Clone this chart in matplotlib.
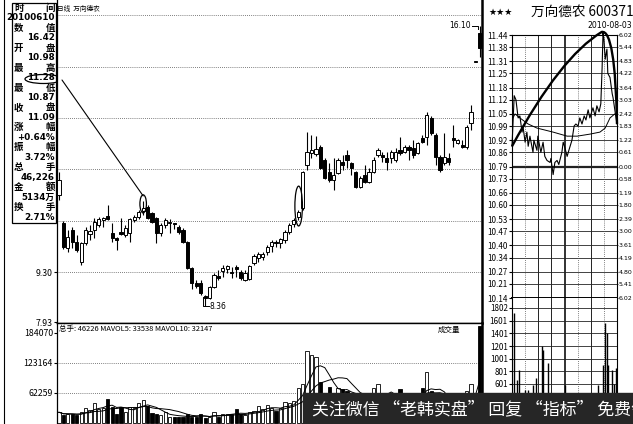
import matplotlib
matplotlib.use("Agg")
import matplotlib.pyplot as plt
import pandas as pd
from matplotlib.patches import Ellipse, Rectangle, ConnectionPatch, PathPatch
from matplotlib.path import Path

plt.rcParams['font.family'] = ['Noto Sans CJK SC', 'DejaVu Sans']

# daily candles, 万向德农
opens = [11.44, 10.66, 9.97, 10.47, 10.14, 9.59, 10.11, 10.36, 10.47, 10.61,
         10.75, 10.86, 10.39, 10.25, 10.41, 10.33, 10.39, 10.75, 10.83, 10.98,
         11.10, 10.94, 10.80, 10.39, 10.61, 10.67, 10.66, 10.55, 10.47, 10.14,
         9.42, 9.01, 9.01, 8.65, 8.59, 8.90, 9.20, 9.34, 9.39, 9.31,
         9.45, 9.31, 9.09, 9.12, 9.56, 9.70, 9.72, 9.86, 10.03, 10.14,
         10.11, 10.19, 10.41, 10.63, 10.83, 11.08, 12.26, 12.59, 12.57, 12.76,
         12.40, 12.07, 11.85, 12.04, 12.35, 12.54, 12.32, 12.07, 11.66, 11.99,
         11.79, 12.07, 12.54, 12.54, 12.46, 12.46, 12.40, 12.68, 12.62, 12.76,
         12.73, 12.59, 13.01, 13.04, 13.56, 13.09, 12.48, 12.32, 12.46, 13.01,
         12.87, 12.82, 12.76, 13.42, 15.11, 15.91]
closes = [11.85, 10.00, 10.28, 10.14, 9.92, 10.11, 10.47, 10.44, 10.69, 10.77,
          10.80, 10.77, 10.25, 10.19, 10.36, 10.52, 10.77, 10.83, 10.97, 11.09,
          10.80, 10.69, 10.39, 10.61, 10.75, 10.69, 10.63, 10.41, 10.14, 9.42,
          9.01, 8.92, 8.73, 8.59, 8.90, 9.23, 9.14, 9.42, 9.48, 9.28,
          9.39, 9.14, 9.28, 9.48, 9.75, 9.81, 9.81, 10.00, 10.14, 10.11,
          10.22, 10.41, 10.61, 10.75, 10.97, 12.07, 12.62, 12.68, 12.70, 12.18,
          11.90, 11.85, 11.99, 12.40, 12.26, 12.40, 12.18, 11.66, 11.90, 11.79,
          12.07, 12.40, 12.68, 12.48, 12.35, 12.62, 12.62, 12.59, 12.76, 12.68,
          12.54, 12.87, 12.90, 13.64, 13.15, 12.48, 12.13, 12.48, 12.35, 12.95,
          12.95, 12.76, 13.31, 13.73, 15.11, 15.49]
highs = [12.07, 10.72, 10.47, 10.55, 10.33, 10.14, 10.55, 10.61, 10.80, 10.83,
         10.83, 11.16, 10.66, 10.28, 10.80, 10.61, 10.80, 10.88, 11.02, 11.28,
         11.16, 10.97, 10.83, 10.66, 10.80, 10.77, 10.66, 10.61, 10.52, 10.17,
         9.45, 9.09, 9.09, 8.68, 8.92, 9.28, 9.37, 9.50, 9.50, 9.45,
         9.50, 9.37, 9.37, 9.50, 9.81, 9.86, 9.86, 10.06, 10.19, 10.19,
         10.25, 10.47, 10.66, 10.80, 11.02, 12.10, 13.17, 13.09, 13.06, 12.82,
         12.46, 12.32, 12.46, 12.46, 12.54, 12.68, 12.35, 12.10, 11.96, 12.26,
         12.18, 12.48, 12.73, 12.62, 12.62, 12.68, 12.73, 13.04, 12.82, 12.82,
         12.95, 12.90, 13.09, 13.73, 13.62, 13.15, 12.54, 13.15, 12.59, 13.37,
         12.98, 12.95, 13.37, 13.92, 15.11, 16.10]
lows = [11.30, 9.94, 9.86, 9.97, 9.86, 9.50, 10.06, 10.19, 10.25, 10.55,
        10.55, 10.75, 10.14, 9.92, 10.33, 10.28, 10.14, 10.69, 10.77, 10.87,
        10.77, 10.66, 10.11, 10.30, 10.52, 10.39, 10.50, 10.36, 10.11, 9.39,
        8.84, 8.87, 8.68, 8.36, 8.56, 8.87, 9.09, 9.17, 9.28, 9.14,
        9.17, 9.09, 9.06, 9.09, 9.50, 9.59, 9.64, 9.78, 9.86, 10.00,
        9.97, 10.11, 10.36, 10.55, 10.75, 11.02, 12.13, 12.46, 12.51, 12.15,
        11.88, 11.79, 11.57, 12.01, 12.13, 12.18, 11.99, 11.63, 11.63, 11.77,
        11.77, 12.04, 12.48, 12.35, 12.13, 12.32, 12.35, 12.54, 12.59, 12.40,
        12.46, 12.57, 12.87, 12.82, 13.09, 12.26, 12.07, 12.26, 12.26, 12.76,
        12.84, 12.73, 12.70, 13.23, 15.11, 15.24]
volumes = [22000, 16000, 18000, 18000, 16000, 22000, 31000, 27000, 41000, 28000,
           31000, 49000, 33000, 18000, 32000, 22000, 33000, 31000, 40000, 46226,
           35000, 20000, 18000, 16000, 22000, 13000, 12000, 12000, 12000, 18000,
           13000, 12000, 18000, 10000, 13000, 22000, 13000, 18000, 18000, 18000,
           28000, 18000, 16000, 22000, 25000, 35000, 28000, 37000, 31000, 25000,
           31000, 43000, 41000, 45000, 72000, 80000, 147000, 139000, 135000, 84000,
           61000, 74000, 61000, 72000, 69000, 66000, 50000, 45000, 40000, 42000,
           38000, 72000, 80000, 48000, 55000, 62000, 45000, 69000, 50000, 48000,
           62000, 45000, 72000, 104000, 66000, 55000, 48000, 45000, 42000, 50000,
           45000, 48000, 65000, 80000, 45000, 198000]

info_labels = [("时", "间"), ("数", "值"), ("开", "盘"), ("最", "高"), ("最", "低"), ("收", "盘"),
               ("涨", "幅"), ("振", "幅"), ("总", "手"), ("金", "额"), ("换", "手")]
info_values = ["20100610", "16.42", "10.98", "11.28", "10.87", "11.09",
               "+0.64%", "3.72%", "46,226", "5134万", "2.71%"]

price_grid = [9.30, 10.72, 12.14, 13.56, 14.97, 16.40]
price_ticks = [7.93, 9.30]
vol_ticks = [62259, 123164, 184070]

# intraday 2010-08-03
intra_left = ['11.44', '11.38', '11.31', '11.25', '11.18', '11.12', '11.05', '10.99', '10.92', '10.86',
              '10.79', '10.73', '10.66', '10.60', '10.53', '10.47', '10.40', '10.34', '10.27', '10.21', '10.14']
intra_right = ['6.02', '5.44', '4.83', '4.22', '3.64', '3.03', '2.42', '1.83', '1.22', '0.61',
               '0.00', '0.58', '1.19', '1.80', '2.39', '3.00', '3.61', '4.19', '4.80', '5.41', '6.02']
intra_min = [0, 5, 9, 14, 18, 23, 25, 30, 34, 37, 41, 48, 50, 57, 59, 66, 71, 75, 80, 87,
             89, 94, 98, 103, 107, 114, 117, 120, 126, 130, 137, 142, 146, 151, 155, 160, 165, 169, 174, 178,
             185, 190, 194, 199, 203, 206, 208, 210, 213, 217, 219, 224, 229, 231, 235, 240]
intra_price = [10.89, 11.14, 11.12, 11.03, 11.04, 10.96, 10.99, 10.91, 10.96, 10.89,
               10.94, 10.86, 10.92, 10.87, 10.94, 10.86, 10.91, 10.84, 10.82, 10.81,
               10.83, 10.75, 10.81, 10.82, 10.80, 10.86, 10.91, 10.89, 10.84, 10.87,
               10.92, 10.99, 11.00, 10.99, 11.03, 11.00, 11.04, 11.02, 11.07, 11.03,
               11.08, 11.04, 11.09, 11.06, 11.10, 11.28, 11.45, 11.42, 11.32, 11.37,
               11.25, 11.23, 11.15, 11.13, 11.07, 11.00]
avg_min = [2, 7, 18, 37, 57, 94, 126, 149, 178, 201, 213, 224, 235, 240]
avg_price = [11.03, 11.05, 11.03, 11.00, 10.98, 10.96, 10.94, 10.94, 10.95, 10.96, 10.98, 11.03, 11.05, 11.04]
ivol_min = [5, 11, 17, 21, 30, 36, 48, 55, 60, 68, 71, 83, 90, 100, 120, 140, 160,
            197, 209, 213, 216, 219, 228, 232, 238]
ivol = [1722, 663, 821, 300, 500, 500, 590, 695, 400, 1200, 1140, 932, 400, 300, 580, 350, 300,
        585, 900, 1564, 1400, 900, 820, 600, 850]
ivol_ticks = [601, 801, 1001, 1201, 1401, 1601, 1802]

# hand drawn arc over the intraday line
arc_pts = [(0, 10.89), (110, 11.33), (205, 11.455), (236, 11.47), (240, 11.00)]

W, H = 633, 424
fig = plt.figure(figsize=(W / 100, H / 100), dpi=100)


def box(x0, y0, x1, y1, **kw):
    return fig.add_axes([x0 / W, 1 - y1 / H, (x1 - x0) / W, (y1 - y0) / H], **kw)


def fx(x):
    return x / W


def fy(y):
    return 1 - y / H


dotted = dict(color='#555555', lw=0.6, ls=(0, (1, 1.5)))
sessions = [(30, 'd'), (60, 's'), (90, 's'), (120, 't'), (150, 'd'), (180, 's'), (210, 'd')]

# background layer in pixels (info panel)
bg = box(0, 0, W, H, zorder=-1)
bg.set_xlim(0, W)
bg.set_ylim(H, 0)
bg.axis('off')
bg.plot([4, 4], [0, H], color='black', lw=0.8)
bg.add_patch(Rectangle((12, 3), 44, 220, fill=False, lw=0.9, ec='black'))
for k, (a, b) in enumerate(info_labels):
    yl = 8 + 19.9 * k
    bg.text(14, yl, a, fontsize=6.8, weight='bold', ha='left', va='center')
    bg.text(55, yl, b, fontsize=6.8, weight='bold', ha='right', va='center')
    bg.text(55, yl + 10, info_values[k], fontsize=6.3, weight='bold', ha='right', va='center',
            family=['DejaVu Sans', 'Noto Sans CJK SC'])
bg.add_patch(Ellipse((43.5, 79), 37, 9, fill=False, lw=0.9))

# daily price panel
n = len(opens)
idx = list(range(n))
ax = box(57, 0, 482, 323)
ax.set_xlim(-0.45, 95.49)
ax.set_ylim(7.9024, 16.8172)
for g in price_grid:
    ax.axhline(g, zorder=0, **dotted)
up = [c >= o for o, c in zip(opens, closes)]
ax.vlines(idx, lows, highs, color='black', lw=0.8, zorder=2)
bottoms = [min(o, c) for o, c in zip(opens, closes)]
heights = [max(abs(c - o), 0.02) for o, c in zip(opens, closes)]
ax.bar(idx, heights, bottom=bottoms, width=0.72,
       color=['white' if u else 'black' for u in up], edgecolor='black', lw=0.7, zorder=3)
ax.set_xticks([])
ax.set_yticks(price_ticks)
ax.set_yticklabels(['%.2f' % p for p in price_ticks])
ax.tick_params(axis='y', length=2, pad=1, labelsize=6.3)
ax.spines['top'].set_visible(False)
ax.spines['left'].set_linewidth(0.9)
ax.spines['bottom'].set_linewidth(1.0)
ax.spines['right'].set_linewidth(1.8)
fig.text(fx(57), fy(9), '日线  万向德农', fontsize=4.8, va='center')

ax.add_patch(Ellipse((19, 11.19), 1.47, 0.50, fill=False, lw=0.9, zorder=4))
ax.add_patch(Ellipse((54.1, 11.13), 1.7, 1.10, fill=False, lw=0.9, zorder=4))
ax.plot([32.4, 32.4, 33.9], [8.62, 8.37, 8.37], color='black', lw=0.7)
ax.text(33.95, 8.37, '%.2f' % min(lows), fontsize=5.5, va='center', family='DejaVu Sans')
ax.plot([93.2, 94.6, 94.6], [16.10, 16.10, 16.02], color='black', lw=0.7)
ax.text(93.0, 16.10, '%.2f' % max(highs), fontsize=5.5, va='center', ha='right', family='DejaVu Sans')

# daily volume panel
av = box(57, 323, 482, 424)
av.set_xlim(-0.45, 95.49)
av.set_ylim(-2045, 204500)
for g in vol_ticks[:2]:
    av.axhline(g, zorder=0, **dotted)
av.bar(idx, volumes, width=0.72, color=['white' if u else 'black' for u in up],
       edgecolor='black', lw=0.6, zorder=2)
vs = pd.Series(volumes)
av.plot(idx, vs.rolling(5, min_periods=1).mean(), color='black', lw=0.7, zorder=3)
av.plot(idx, vs.rolling(10, min_periods=1).mean(), color='black', lw=0.7, zorder=3)
av.set_xticks([])
av.set_yticks(vol_ticks)
av.set_yticklabels([str(v) for v in vol_ticks])
av.tick_params(axis='y', length=2, pad=1, labelsize=6.3)
av.spines['bottom'].set_visible(False)
av.spines['top'].set_linewidth(1.0)
av.spines['left'].set_linewidth(0.9)
av.spines['right'].set_linewidth(1.8)
av.text(0.004, 0.985, '总手: 46226 MAVOL5: 33538 MAVOL10: 32147', transform=av.transAxes,
        fontsize=5.4, va='top', ha='left')
av.text(0.895, 0.975, '成交量', transform=av.transAxes, fontsize=5.4, va='top', ha='left')

# intraday price panel
ai = box(512, 35, 617, 298)
ai.set_xlim(0, 240)
ai.set_ylim(10.14, 11.44)
lv = [float(s) for s in intra_left]
for v in lv:
    ai.axhline(v, color='#222222', lw=1.6 if v == 10.79 else 0.6, zorder=0)
for m, style in sessions:
    if style == 'd':
        ai.axvline(m, zorder=0, **dotted)
    else:
        ai.axvline(m, color='#222222', lw=1.3 if style == 't' else 0.7, zorder=0)
ai.plot(avg_min, avg_price, color='black', lw=0.7, zorder=2)
ai.plot(intra_min, intra_price, color='black', lw=0.8, zorder=3, clip_on=False)
codes = [Path.MOVETO, Path.CURVE3, Path.CURVE3, Path.CURVE3, Path.CURVE3]
ai.add_patch(PathPatch(Path(arc_pts, codes), fill=False, lw=1.7, ec='black', zorder=4, clip_on=False))
ai.set_xticks([])
ai.set_yticks(lv)
ai.set_yticklabels(intra_left)
ai.tick_params(axis='y', length=2, pad=1, labelsize=5.8)
for s in ai.spines.values():
    s.set_linewidth(0.8)
ai.spines['bottom'].set_linewidth(1.4)
ar = ai.twinx()
ar.set_ylim(10.14, 11.44)
ar.set_yticks(lv)
ar.set_yticklabels(intra_right, family='DejaVu Sans')
ar.tick_params(axis='y', length=0.6, pad=0.3, labelsize=4.5)
for s in ar.spines.values():
    s.set_visible(False)

# intraday volume panel
aiv = box(512, 298, 617, 424)
aiv.set_xlim(0, 240)
aiv.set_ylim(-32, 1960)
for v in ivol_ticks:
    aiv.axhline(v, color='#222222', lw=0.6, zorder=0)
for m, style in sessions:
    if style == 'd':
        aiv.axvline(m, zorder=0, **dotted)
    else:
        aiv.axvline(m, color='#222222', lw=1.3 if style == 't' else 0.7, zorder=0)
aiv.vlines(ivol_min, 0, ivol, color='black', lw=1.0, zorder=2)
aiv.set_xticks([])
aiv.set_yticks(ivol_ticks)
aiv.set_yticklabels([str(v) for v in ivol_ticks])
aiv.tick_params(axis='y', length=2, pad=1, labelsize=5.8)
aiv.spines['top'].set_visible(False)
aiv.spines['bottom'].set_visible(False)
for s in ['left', 'right']:
    aiv.spines[s].set_linewidth(0.8)

# titles
fig.text(fx(488), fy(12), '★★★', fontsize=6.5, va='center', family='DejaVu Sans')
fig.text(fx(531), fy(12), '万向德农 600371', fontsize=9.8, va='center')
fig.text(fx(632), fy(25), '2010-08-03', fontsize=5.6, va='center', ha='right', family='DejaVu Sans')

# connecting lines
c1 = ConnectionPatch(xyA=(62, 80), coordsA='data', axesA=bg, xyB=(19, 11.41), coordsB='data', axesB=ax,
                     color='black', lw=0.8)
fig.add_artist(c1)
c2 = ConnectionPatch(xyA=(54.8, 10.93), coordsA='data', axesA=ax, xyB=(208, 11.455), coordsB='data',
                     axesB=ai, color='black', lw=0.8)
fig.add_artist(c2)

# watermark band
fig.add_artist(Rectangle((fx(303), 0), fx(330), 31 / H, transform=fig.transFigure,
                         color='#262626', zorder=8))
fig.text(fx(312), fy(409), '关注微信 “老韩实盘” 回复 “指标” 免费领', fontsize=12.2,
         color='white', va='center', zorder=9)

fig.savefig('out.png', dpi=100)
